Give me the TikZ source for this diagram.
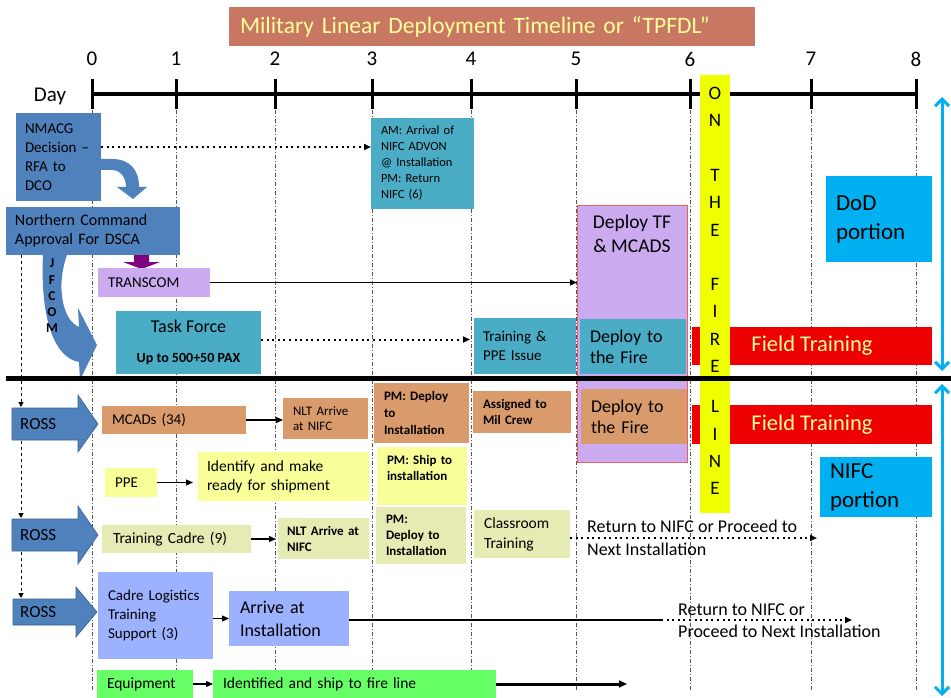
\documentclass[tikz,border=0pt]{standalone}
\usepackage{fontspec}
\setmainfont{Carlito}
\usetikzlibrary{arrows.meta}
\definecolor{cblue}{HTML}{4F81BD}
\definecolor{cteal}{HTML}{4BACC6}
\definecolor{clav}{HTML}{CCAAF0}
\definecolor{ctan}{HTML}{D99A6C}
\definecolor{cyel}{HTML}{F8FF99}
\definecolor{ckhaki}{HTML}{E5EBB2}
\definecolor{cperi}{HTML}{9DB2FF}
\definecolor{cgreen}{HTML}{66FF66}
\definecolor{cred}{HTML}{EE0000}
\definecolor{ccyan}{HTML}{00B0F0}
\definecolor{cbar}{HTML}{F0FF00}
\definecolor{ctitle}{HTML}{C87763}
\definecolor{cpale}{HTML}{FFFF99}
\definecolor{cpurple}{HTML}{7F007F}
\definecolor{cborder}{HTML}{F06060}
\definecolor{cgrid}{HTML}{555555}
\newcommand\myfs[2]{\fontsize{#1}{#2}\selectfont}
\begin{document}
\begin{tikzpicture}[x=1pt,y=-1pt,
  bx/.style={anchor=north west, inner ysep=0pt, outer sep=0pt, align=left},
  gridl/.style={cgrid, line width=0.8pt, dash pattern=on 4pt off 2pt on 1pt off 2pt},
  tip/.style={-{Triangle[length=7pt,width=6pt]}},
  smalltip/.style={-{Triangle[length=5pt,width=5pt]}},
  dotl/.style={line width=2pt, dash pattern=on 2pt off 3.6pt},
  conn/.style={line width=1.2pt},
  rossarrow/.style={fill=cblue, draw=cblue!75!black, line width=0.6pt},
]
\useasboundingbox (0,0) rectangle (951,698);
\fill[white] (0,0) rectangle (951,698);

% grid lines, axis, ticks, labels
\foreach \d/\x in {0/92,1/176,2/275,3/372,4/471,5/576,6/690,7/811,8/916}{
  \draw[gridl] (\x,110) -- (\x,690);
  \draw[line width=3pt] (\x,79) -- (\x,109);
  \node[font=\myfs{21}{25}, inner sep=0] (d\d) at (\x,59) {\d};
}
\draw[line width=4pt] (92,94) -- (916,94);
\node[font=\myfs{21}{25}, inner sep=0] (day) at (50,96) {Day};

% title
\node[bx, fill=ctitle, minimum height=39pt, inner xsep=11pt, text width=504pt, font=\myfs{23.5}{28}, text=cpale] (title) at (229,7) {Military Linear Deployment Timeline or “TPFDL”};

% upper (DoD) section
\node[bx, fill=cblue, minimum height=88pt, inner xsep=9pt, text width=67pt, font=\myfs{15}{19}] (nmacg) at (16,113) {NMACG\\Decision –\\RFA to\\DCO};
\node[bx, fill=cblue, minimum height=48pt, inner xsep=9pt, text width=156pt, font=\myfs{16}{19}] (north) at (6,207) {Northern Command\\Approval For DSCA};
% bent arrow NMACG -> Northern Command
\fill[cblue] (101,159) -- (112,159) .. controls (130,159) and (139,170) .. (139,187) -- (147,187) -- (133,199) -- (117,187) -- (126,187) .. controls (126,177) and (120,170) .. (112,170) -- (101,170) -- cycle;
% purple arrow to TRANSCOM
\fill[cpurple] (134,255) -- (149,255) -- (149,262) -- (160,262) -- (141.5,269) -- (123,262) -- (134,262) -- cycle;
% JFCOM curved arrow
\fill[cblue] (43,255) .. controls (40,320) and (55,358) .. (79,362) -- (80,380) -- (97,345) -- (78,308) -- (79,327) .. controls (62,320) and (56,285) .. (67,255) -- cycle;
\node[font=\bfseries\myfs{13.5}{16.3}, align=center, inner sep=0] (jf) at (52,296) {J\\F\\C\\O\\M};

\node[bx, fill=clav, minimum height=29pt, inner xsep=10pt, text width=92pt, font=\myfs{15}{18}] (transcom) at (98,268) {TRANSCOM};
\node[bx, fill=cteal, minimum height=91pt, inner xsep=10pt, text width=83pt, font=\myfs{12.5}{16}] (am) at (371,118) {AM: Arrival of\\NIFC ADVON\\@ Installation\\PM: Return\\NIFC (6)};
\node[bx, fill=cteal, minimum width=145pt, minimum height=63pt, align=center, font=\myfs{18}{22}] (tf) at (116,311) {Task Force\\[8pt]{\bfseries\myfs{14}{17}Up to 500+50 PAX}};
\node[bx, fill=cteal, minimum height=56pt, inner xsep=9pt, text width=84pt, font=\myfs{15}{19}] (tpe) at (474,318) {Training \&\\PPE Issue};

\node[bx, fill=clav, draw=cborder, line width=0.8pt, minimum width=110pt, minimum height=257pt, inner sep=0pt] (dtf) at (577,205) {};
\node[font=\myfs{19.5}{24}, align=center, inner sep=0] (dtft) at (632,234) {Deploy TF\\\& MCADS};
\node[bx, fill=cteal, minimum height=55pt, inner xsep=10pt, text width=86pt, font=\myfs{18}{21}] (df1) at (580,319) {Deploy to\\the Fire};
\node[bx, fill=ctan, minimum height=55pt, inner xsep=10pt, text width=86pt, font=\myfs{18}{21}] (df2) at (581,389) {Deploy to\\the Fire};

% lower (NIFC) section
\node[bx, fill=ctan, minimum height=28pt, inner xsep=10pt, text width=124pt, font=\myfs{15}{18}] (mcads) at (102,406) {MCADs (34)};
\node[bx, fill=ctan, minimum height=41pt, inner xsep=10pt, text width=65pt, font=\myfs{13}{15.5}] (nlt1) at (283,398) {NLT Arrive\\at NIFC};
\node[bx, fill=ctan, minimum height=60pt, inner xsep=10pt, text width=75pt, font=\bfseries\myfs{13}{17}] (pmd1) at (374,383) {PM: Deploy\\to\\Installation};
\node[bx, fill=ctan, minimum height=42pt, inner xsep=10pt, text width=78pt, font=\bfseries\myfs{13}{16}] (mil) at (473,391) {Assigned to\\Mil Crew};
\node[bx, fill=cyel, minimum height=29pt, inner xsep=10pt, text width=32pt, font=\myfs{15}{18}] (ppe) at (105,468) {PPE};
\node[bx, fill=cyel, minimum height=49pt, inner xsep=9pt, text width=153pt, font=\myfs{15.5}{19}] (ident) at (198,452) {Identify and make\\ready for shipment};
\node[bx, fill=cyel, minimum height=58pt, inner xsep=10pt, text width=70pt, font=\bfseries\myfs{13}{16}] (pms) at (377,447) {PM: Ship to\\installation\\\mbox{}};
\node[bx, fill=ckhaki, minimum height=28pt, inner xsep=11pt, text width=127pt, font=\myfs{15.5}{18}] (tc) at (102,525) {Training Cadre (9)};
\node[bx, fill=ckhaki, minimum height=41pt, inner xsep=9pt, text width=73pt, font=\bfseries\myfs{13}{16}] (nlt2) at (278,518) {NLT~Arrive~at\\NIFC};
\node[bx, fill=ckhaki, minimum height=57pt, inner xsep=10pt, text width=70pt, font=\bfseries\myfs{13}{16}] (pmd2) at (376,507) {PM:\\Deploy to\\Installation};
\node[bx, fill=ckhaki, minimum height=48pt, inner xsep=10pt, text width=76pt, font=\myfs{15.5}{20}] (class) at (474,510) {Classroom\\Training};
\node[bx, fill=cperi, minimum height=87pt, inner xsep=10pt, text width=95pt, font=\myfs{15}{19}] (cl) at (98,572) {Cadre Logistics\\Training\\Support (3)};
\node[bx, fill=cperi, minimum height=55pt, inner xsep=11pt, text width=98pt, font=\myfs{18}{23}] (arr) at (229,591) {Arrive at\\Installation};
\node[bx, fill=cgreen, minimum height=28pt, inner xsep=10pt, text width=76pt, font=\myfs{15.5}{18}] (equip) at (97,670) {Equipment};
\node[bx, fill=cgreen, minimum height=28pt, inner xsep=10pt, text width=263pt, font=\myfs{15.5}{18}] (ids) at (213,670) {Identified and ship to fire line};

\node[anchor=west, align=left, inner sep=0, font=\myfs{18}{23}] (ret1) at (587,538) {Return to NIFC or Proceed to\\Next Installation};
\node[anchor=west, align=left, inner sep=0, font=\myfs{18}{22}] (ret2) at (678,621) {Return to NIFC or\\Proceed to Next Installation};

% ROSS arrows
\draw[rossarrow] (12,408) -- (78,408) -- (78,395) -- (98,424) -- (78,452) -- (78,440) -- (12,440) -- cycle;
\draw[rossarrow] (12,519) -- (78,519) -- (78,506) -- (98,535) -- (78,564) -- (78,551) -- (12,551) -- cycle;
\draw[rossarrow] (13,599) -- (76,599) -- (76,587) -- (97,612) -- (76,637) -- (76,625) -- (13,625) -- cycle;
\node[anchor=west, font=\myfs{17}{20}, inner sep=0] (ross1) at (20,424) {ROSS};
\node[anchor=west, font=\myfs{17}{20}, inner sep=0] (ross2) at (20,535) {ROSS};
\node[anchor=west, font=\myfs{17}{20}, inner sep=0] (ross3) at (20,612) {ROSS};
\coordinate (r0) at ([xshift=15pt]north.south west);
\coordinate (r1) at (21,407);
\coordinate (r2) at (21,441);
\coordinate (r3) at (21,518);
\coordinate (r4) at (21,552);
\coordinate (r5) at (21,598);
\draw[dashed, line width=1pt, smalltip] (r0) -- (r1);
\draw[dashed, line width=1pt, smalltip] (r2) -- (r3);
\draw[dashed, line width=1pt, smalltip] (r4) -- (r5);

% connectors
\coordinate (c1) at ([yshift=10pt]nmacg.east);
\draw[dotl, tip] (c1) -- (am.west |- c1);
\draw[line width=1.5pt, tip] (transcom.east) -- (dtf.west |- transcom.east);
\coordinate (c2) at ([yshift=3pt]tf.east);
\draw[dotl, tip] (c2) -- ([xshift=-4pt]tpe.west |- c2);
\draw[conn, tip] (mcads.east) -- (nlt1.west |- mcads.east);
\draw[conn, tip] (ppe.east) -- ([xshift=-5pt]ident.west |- ppe.east);
\draw[conn, tip] (tc.east) -- ([xshift=-2pt]nlt2.west |- tc.east);
\coordinate (e1) at (817,538);
\draw[dotl, tip] (class.east |- e1) -- (e1);
\draw[conn, tip] (cl.east |- arr.west) -- (arr.west);
\coordinate (e2) at (661,620);
\coordinate (e3) at (852,620);
\draw[line width=2.5pt] (arr.east |- e2) -- (e2);
\draw[dotl, tip] (e2) -- (e3);
\draw[conn, tip] (equip.east) -- (ids.west);
\coordinate (e4) at (627,684);
\draw[line width=3pt, -{Triangle[length=8pt,width=7pt]}] (ids.east) -- (e4);

% field training bars
\node[bx, fill=cred, minimum width=240pt, minimum height=38pt, inner sep=0pt, align=center, text=cpale, font=\myfs{22.5}{26}] (ft1) at (692,327) {Field Training};
\node[bx, fill=cred, minimum width=240pt, minimum height=39pt, inner sep=0pt, align=center, text=cpale, font=\myfs{22.5}{26}] (ft2) at (692,405) {Field Training};

% on the fire line bar
\node[bx, fill=cbar, minimum width=30pt, minimum height=438pt, inner sep=0pt] (bar) at (700,75) {};
\node[anchor=north, align=center, inner sep=0, font=\myfs{19}{27.3}] (flt) at (715,87) {O\\N\\[27.3pt]T\\H\\E\\[27.3pt]F\\I\\R\\E\\[13pt]L\\I\\N\\E};

% portions
\node[bx, fill=ccyan, minimum height=86pt, inner xsep=10pt, text width=86pt, font=\myfs{23}{29}] (dod) at (826,176) {DoD\\portion};
\node[bx, fill=ccyan, minimum height=60pt, inner xsep=10pt, text width=92pt, font=\myfs{23}{29}] (nifc) at (820,457) {NIFC\\portion};

% separator
\draw[line width=5pt] (6,378) -- (951,378);

% blue range arrows
\coordinate (b1) at (942,97);
\coordinate (b2) at (942,371);
\coordinate (b3) at (942,384);
\coordinate (b4) at (942,696);
\draw[ccyan, line width=3pt, {Straight Barb[length=7pt,width=14pt]}-{Straight Barb[length=7pt,width=14pt]}] (b1) -- (b2);
\draw[ccyan, line width=3pt, {Straight Barb[length=7pt,width=14pt]}-{Straight Barb[length=7pt,width=14pt]}] (b3) -- (b4);
\end{tikzpicture}
\end{document}
